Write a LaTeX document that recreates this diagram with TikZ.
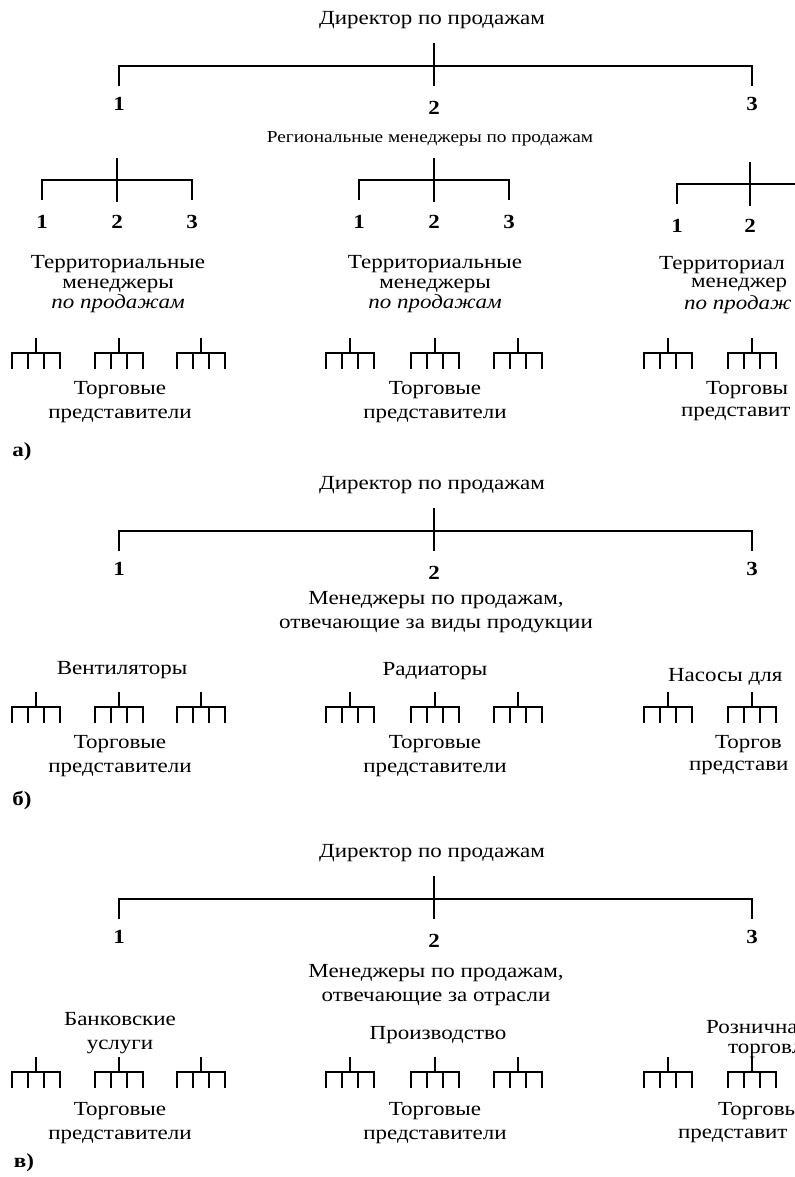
\documentclass[tikz,border=0pt]{standalone}
\usepackage{fontspec}
\setmainfont[FakeStretch=1.15]{Liberation Serif}

\begin{document}
\begin{tikzpicture}[x=0.5pt,y=-0.5pt,line width=1.1pt,
    txt/.style={font=\fontsize{10}{12}\selectfont,align=center,inner sep=0pt},
    tight/.style={txt,font=\fontsize{10}{10}\selectfont},
    small/.style={txt,font=\fontsize{8.4}{9}\selectfont},
    num/.style={font=\fontsize{10}{10}\selectfont\bfseries,inner sep=0pt}]
	\useasboundingbox (0,0) rectangle (794,1177);
	
	% директор и три ветви (а, б, в)
	\foreach \s/\yb in {a/66,b/531,c/899}{
		\node[txt] (dir\s) at (432,\yb-46) {Директор по продажам};
		\coordinate (bar\s) at (434,\yb);
		\node[num] (\s1) at (119,\yb+38) {1};
		\node[num] (\s2) at (434,\yb+42) {2};
		\node[num] (\s3) at (752,\yb+38) {3};
		\draw ([yshift=5pt]\s1.north) |- (bar\s) -| ([yshift=5pt]\s3.north);
		\draw (bar\s) ++(0,-23) -- ([yshift=7pt]\s2.north);
	}
	
	% а) региональные менеджеры
	\node[small] (reg) at (430,139) {Региональные менеджеры по продажам};
	\foreach \g/\cx in {L/117,M/434}{
		\coordinate (bar\g) at (\cx,180);
		\node[num] (\g1) at (\cx-75,222) {1};
		\node[num] (\g2) at (\cx,222) {2};
		\node[num] (\g3) at (\cx+75,222) {3};
		\draw ([yshift=7pt]\g1.north) |- (bar\g) -| ([yshift=7pt]\g3.north);
		\draw (bar\g) ++(0,-22) -- ([yshift=6pt]\g2.north);
	}
	\coordinate (barR) at (750,184);
	\coordinate (edgeR) at (800,184);
	\node[num] (R1) at (677,226) {1};
	\node[num] (R2) at (750,226) {2};
	\draw ([yshift=7pt]R1.north) |- (edgeR);
	\draw (barR) ++(0,-22) -- ([yshift=6pt]R2.north);
	
	\node[tight] (terL) at (118,284) {Территориальные\\менеджеры\\\textit{по продажам}};
	\node[tight] (terM) at (435,284) {Территориальные\\менеджеры\\\textit{по продажам}};
	\node[txt,anchor=west] (terR1) at (658,265) {Территориал};
	\node[txt,anchor=west] (terR2) at (690,285) {менеджер};
	\node[txt,anchor=west] (terR3) at (683,305) {\textit{по продаж}};
	
	% гребёнки торговых представителей
	\foreach \yb in {353,707,1072}
	\foreach \x in {36,119,201,350,435,518,668,752}{
		\draw (\x-24,\yb+16) |- (\x+24,\yb) -- ++(0,16)
		(\x-8,\yb) -- ++(0,16) (\x+8,\yb) -- ++(0,16)
		(\x,\yb) -- ++(0,-15);
	}
	
	\foreach \s/\yc in {a/402,b/756,c/1123}{
		\node[txt] (repL\s) at (120,\yc) {Торговые\\представители};
		\node[txt] (repM\s) at (435,\yc) {Торговые\\представители};
	}
	\node[txt,anchor=west] (repRa1) at (705,390) {Торговы};
	\node[txt,anchor=west] (repRa2) at (680,414) {представит};
	
	% б) виды продукции
	\node[txt] (prod) at (436,612) {Менеджеры по продажам,\\отвечающие за виды продукции};
	\node[txt] (fan) at (122,670) {Вентиляторы};
	\node[txt] (rad) at (435,671) {Радиаторы};
	\node[txt,anchor=west] (pump) at (667,677) {Насосы для};
	\node[txt,anchor=west] (repRb1) at (714,744) {Торгов};
	\node[txt,anchor=west] (repRb2) at (688,768) {представи};
	
	% в) отрасли
	\node[txt] (ind) at (436,985) {Менеджеры по продажам,\\отвечающие за отрасли};
	\node[txt] (bank) at (120,1033) {Банковские\\услуги};
	\node[txt] (manuf) at (438,1035) {Производство};
	\node[txt,anchor=west] (retail1) at (705,1027) {Рознична};
	\node[txt,anchor=west] (retail2) at (727,1051) {торговля};
	\node[txt,anchor=west] (repRc1) at (717,1111) {Торговы};
	\node[txt,anchor=west] (repRc2) at (677,1136) {представит};
	
	\node[num] (tagA) at (22,452) {а)};
	\node[num] (tagB) at (22,800) {б)};
	\node[num] (tagC) at (24,1163) {в)};
\end{tikzpicture}
\end{document}
